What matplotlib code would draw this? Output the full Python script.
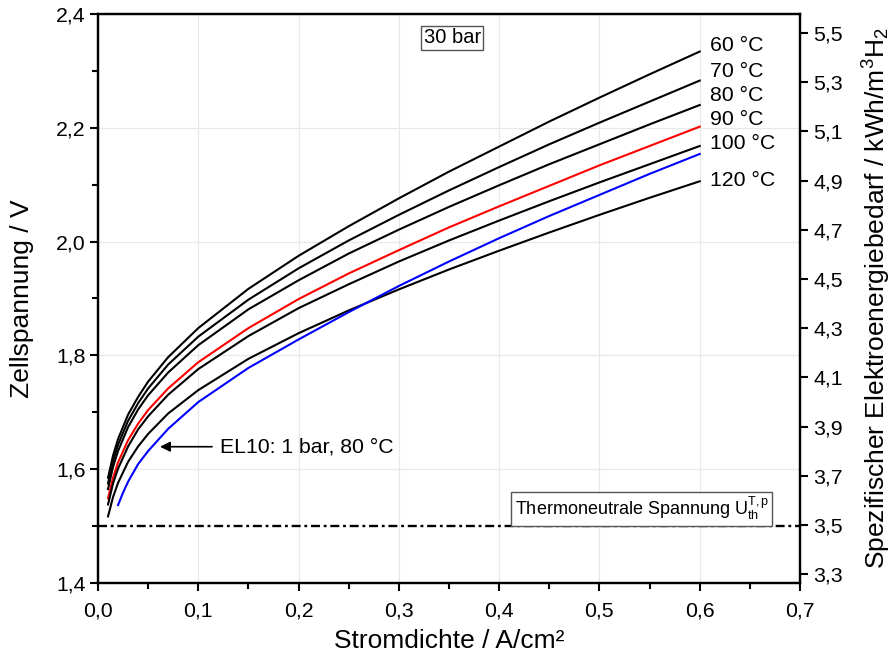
import matplotlib
matplotlib.use("Agg")
import matplotlib.pyplot as plt
from matplotlib.ticker import FuncFormatter, MultipleLocator, FixedLocator

plt.rcParams['font.family'] = ['Liberation Sans', 'DejaVu Sans']
plt.rcParams['mathtext.fontset'] = 'custom'
plt.rcParams['mathtext.rm'] = 'Liberation Sans'
plt.rcParams['mathtext.it'] = 'Liberation Sans'
plt.rcParams['mathtext.bf'] = 'Liberation Sans'

# ---------------- data ----------------
x_cur = [0.01, 0.015, 0.02, 0.03, 0.04, 0.05, 0.07, 0.1, 0.15, 0.2, 0.25,
         0.3, 0.35, 0.4, 0.45, 0.5, 0.55, 0.6]
v_60 = [1.585, 1.624, 1.653, 1.696, 1.727, 1.754, 1.797, 1.848, 1.917, 1.975,
        2.027, 2.076, 2.123, 2.167, 2.211, 2.253, 2.294, 2.334]
v_70 = [1.575, 1.614, 1.643, 1.685, 1.716, 1.742, 1.784, 1.833, 1.898, 1.953,
        2.002, 2.047, 2.090, 2.131, 2.171, 2.209, 2.246, 2.283]
v_80 = [1.565, 1.604, 1.632, 1.674, 1.705, 1.730, 1.770, 1.818, 1.881, 1.932,
        1.979, 2.021, 2.061, 2.099, 2.136, 2.171, 2.206, 2.240]
v_90 = [1.549, 1.585, 1.612, 1.651, 1.680, 1.704, 1.742, 1.788, 1.848, 1.899,
        1.944, 1.985, 2.025, 2.062, 2.098, 2.134, 2.168, 2.202]
v_100 = [1.538, 1.575, 1.601, 1.640, 1.670, 1.693, 1.731, 1.776, 1.834, 1.883,
         1.925, 1.965, 2.002, 2.037, 2.071, 2.104, 2.136, 2.168]
v_120 = [1.517, 1.551, 1.576, 1.613, 1.640, 1.662, 1.698, 1.739, 1.794, 1.839,
         1.879, 1.916, 1.951, 1.984, 2.016, 2.047, 2.077, 2.106]

x_el10 = [0.02, 0.025, 0.03, 0.04, 0.05, 0.07, 0.1, 0.15, 0.2, 0.25, 0.3,
          0.35, 0.4, 0.45, 0.5, 0.55, 0.6]
v_el10 = [1.537, 1.559, 1.578, 1.609, 1.632, 1.671, 1.718, 1.778, 1.828, 1.876,
          1.922, 1.965, 2.006, 2.045, 2.082, 2.119, 2.154]

series = [v_60, v_70, v_80, v_90, v_100, v_120]
series_colors = ['black', 'black', 'black', 'red', 'black', 'black']
curve_labels = ['60 °C', '70 °C', '80 °C', '90 °C', '100 °C', '120 °C']
label_y = [2.344, 2.299, 2.256, 2.215, 2.173, 2.108]

u_thermo = 1.5

x_ticks = [0.0, 0.1, 0.2, 0.3, 0.4, 0.5, 0.6, 0.7]
y_ticks = [1.4, 1.6, 1.8, 2.0, 2.2, 2.4]
y2_ticks = [3.3, 3.5, 3.7, 3.9, 4.1, 4.3, 4.5, 4.7, 4.9, 5.1, 5.3, 5.5]

# ---------------- figure ----------------
fig = plt.figure(figsize=(8.93, 6.59), dpi=100)
ax = fig.add_axes([98/893, 1-583/659, (800-98)/893, (583-14)/659])

ax.set_xlim(0, 0.7)
ax.set_ylim(1.4, 2.4)

ax.grid(True, which='major', color='#e8e8e8', lw=0.9)
ax.set_axisbelow(True)

for v, c in zip(series, series_colors):
    ax.plot(x_cur, v, color=c, lw=1.5, zorder=3)
ax.plot(x_el10, v_el10, color='blue', lw=1.5, zorder=3)

ax.axhline(u_thermo, color='black', lw=1.7,
           linestyle=(0, (3.8, 1.6, 1.2, 1.6)), zorder=3)

for lab, ly in zip(curve_labels, label_y):
    ax.text(0.610, ly, lab, fontsize=15.3, va='center', ha='left')

ax.text(0.3534, 2.358, '30 bar', fontsize=14.5, ha='center', va='center',
        bbox=dict(boxstyle='square,pad=0.12', fc='white', ec='#555555', lw=1))

ax.text(0.4155, 1.5305, 'Thermoneutrale Spannung U$_{\\mathrm{th}}^{\\mathrm{T,p}}$',
        fontsize=13, ha='left', va='center',
        bbox=dict(boxstyle='square,pad=0.2', fc='white', ec='#555555', lw=1))

ax.annotate('', xy=(0.0618, 1.6395), xytext=(0.1137, 1.6395),
            arrowprops=dict(arrowstyle='-|>', color='black', lw=1.2,
                            mutation_scale=15, shrinkA=0, shrinkB=0))
ax.text(0.1216, 1.6395, 'EL10: 1 bar, 80 °C', fontsize=15.3, ha='left', va='center')

fmt = FuncFormatter(lambda v, p: f'{v:.1f}'.replace('.', ','))
ax.xaxis.set_major_locator(FixedLocator(x_ticks))
ax.yaxis.set_major_locator(FixedLocator(y_ticks))
ax.xaxis.set_minor_locator(MultipleLocator(0.05))
ax.yaxis.set_minor_locator(MultipleLocator(0.1))
ax.xaxis.set_major_formatter(fmt)
ax.yaxis.set_major_formatter(fmt)
ax.tick_params(which='major', direction='out', length=6, width=1.5, labelsize=15.3)
ax.tick_params(which='minor', direction='out', length=4, width=1.5)
ax.tick_params(axis='x', pad=7)
ax.tick_params(axis='y', pad=3)
for s in ax.spines.values():
    s.set_linewidth(1.6)

ax.set_xlabel('Stromdichte / A/cm²', fontsize=19, va='center')
ax.xaxis.set_label_coords(0.5, (583-641)/569)
ax.set_ylabel('Zellspannung / V', fontsize=19, va='center')
ax.yaxis.set_label_coords((22-98)/702, 0.5)

ax2 = ax.twinx()
ax2.set_ylim(3.264, 5.577)
ax2.yaxis.set_major_locator(FixedLocator(y2_ticks))
ax2.yaxis.set_major_formatter(fmt)
ax2.tick_params(which='major', direction='out', length=6, width=1.5, labelsize=15.3)
for s in ax2.spines.values():
    s.set_linewidth(1.6)
ax2.set_ylabel('Spezifischer Elektroenergiebedarf / kWh/m$^3$H$_2$',
               fontsize=19, va='center')
ax2.yaxis.set_label_coords((877-98)/702, 0.5)

fig.savefig('out.png', dpi=100)
